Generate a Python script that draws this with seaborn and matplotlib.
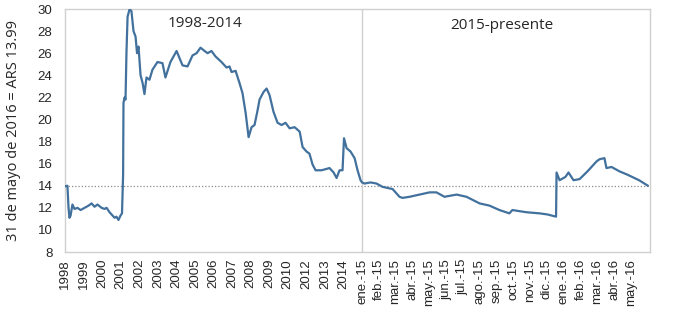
import matplotlib
matplotlib.use("Agg")
import matplotlib.pyplot as plt
import pandas as pd
import seaborn as sns

# 1998-2014: position on the category axis (one unit per labelled year) and real value
hist_pos = [0.00, 0.13, 0.19, 0.24, 0.30, 0.40, 0.51, 0.67, 0.84, 1.05, 1.27, 1.43, 1.59,
            1.75, 1.97, 2.13, 2.24, 2.40, 2.56, 2.67, 2.77, 2.88, 2.99, 3.07, 3.13, 3.15,
            3.21, 3.26, 3.31, 3.37, 3.48, 3.58, 3.69, 3.80, 3.88, 3.96, 4.07, 4.18, 4.28,
            4.39, 4.55, 4.71, 4.98, 5.25, 5.41, 5.68, 6.01, 6.33, 6.60, 6.87, 7.09, 7.30,
            7.52, 7.68, 7.89, 8.11, 8.43, 8.70, 8.86, 8.97, 9.19, 9.40, 9.56, 9.73, 9.89,
            10.05, 10.21, 10.37, 10.48, 10.70, 10.86, 11.02, 11.23, 11.45, 11.67, 11.88,
            12.10, 12.37, 12.64, 12.80, 13.01, 13.17, 13.34, 13.50, 13.82, 14.04, 14.25,
            14.47, 14.63, 14.79, 14.95, 15.03, 15.17, 15.38, 15.60, 15.76, 15.92, 16.00]
hist_val = [13.95, 14.0, 12.0, 11.1, 11.3, 12.3, 11.9, 12.0, 11.8, 12.0, 12.2, 12.4, 12.1,
            12.3, 12.0, 11.9, 12.0, 11.6, 11.3, 11.1, 11.2, 10.9, 11.3, 11.5, 15.0, 21.5,
            22.0, 21.8, 26.0, 29.3, 30.0, 29.8, 28.0, 27.5, 26.0, 26.6, 24.0, 23.3, 22.3,
            23.8, 23.6, 24.5, 25.2, 25.1, 23.8, 25.2, 26.2, 24.9, 24.8, 25.8, 26.0, 26.5,
            26.2, 26.0, 26.2, 25.7, 25.2, 24.7, 24.8, 24.3, 24.4, 23.3, 22.4, 20.6, 18.4,
            19.3, 19.5, 20.8, 21.8, 22.5, 22.8, 22.2, 20.7, 19.7, 19.5, 19.7,
            19.2, 19.3, 18.9, 17.5, 17.1, 16.9, 15.9, 15.4, 15.4, 15.5, 15.6,
            15.2, 14.7, 15.4, 15.4, 18.3, 17.4, 17.1, 16.5, 15.4, 14.5, 14.3]

# 2015-presente: months since January 2015 and real value
rec_mes = [0.00, 0.15, 0.51, 0.86, 1.22, 1.82, 2.23, 2.41, 2.83, 3.42, 4.02, 4.43, 4.91,
           5.63, 6.22, 7.00, 7.59, 8.18, 8.77, 8.95, 9.79, 10.57, 11.04, 11.55, 11.58,
           11.76, 12.11, 12.29, 12.59, 12.95, 13.42, 13.96, 14.14, 14.43, 14.55, 14.85,
           15.33, 15.80, 16.49, 17.02]
rec_val = [14.3, 14.2, 14.3, 14.2, 13.9, 13.7, 13.0, 12.9, 13.0, 13.2, 13.4, 13.4, 13.0,
           13.2, 13.0, 12.4, 12.2, 11.8, 11.5, 11.8, 11.6, 11.5, 11.4, 11.2, 15.2,
           14.5, 14.8, 15.2, 14.5, 14.6, 15.3, 16.2, 16.4, 16.5, 15.6, 15.7,
           15.3, 15.0, 14.5, 14.0]

year_labels = ["1998", "1999", "2000", "2001", "2002", "2003", "2004", "2005", "2006",
               "2007", "2008", "2009", "2010", "2012", "2013", "2014"]
month_labels = ["ene.-15", "feb.-15", "mar.-15", "abr.-15", "may.-15", "jun.-15",
                "jul.-15", "ago.-15", "sep.-15", "oct.-15", "nov.-15", "dic.-15",
                "ene.-16", "feb.-16", "mar.-16", "abr.-16", "may.-16"]
reference_value = 13.99
y_ticks = list(range(8, 31, 2))

# width of one month relative to one labelled year on the axis
MONTH_W = 0.905
split = len(year_labels)

rec_pos = [split + m * MONTH_W for m in rec_mes]
df = pd.DataFrame({
    "pos": hist_pos + rec_pos,
    "valor": hist_val + rec_val,
})

sns.set_style("white")
plt.rcParams["font.family"] = ["Open Sans", "DejaVu Sans"]

fig = plt.figure(figsize=(6.8, 3.29), dpi=100)
ax = fig.add_axes([0.0956, 0.234, 0.861, 0.7386])

grey = "#d0d0d0"
ax.axhline(reference_value, color="#8c8c8c", lw=0.9, ls=(0, (1, 1.6)), zorder=1)
ax.axvline(split, color=grey, lw=1.0, zorder=1)

sns.lineplot(data=df, x="pos", y="valor", sort=False, color="#41719c",
             lw=1.6, ax=ax, zorder=3)

ax.set_xlim(0, split + 15.54)
ax.set_ylim(8, 30)
ax.set_yticks(y_ticks)
ax.set_yticklabels([str(t) for t in y_ticks], fontsize=9.5, family="Liberation Sans")

xt = list(range(split)) + [split + k * MONTH_W for k in range(len(month_labels))]
ax.set_xticks(xt)
ax.set_xticklabels(year_labels + month_labels, rotation=90, fontsize=9.5,
                   family="Liberation Sans")

ax.tick_params(axis="both", direction="in", length=3, color=grey, width=0.8,
               pad=5)
ax.tick_params(axis="y", pad=9)
for s in ax.spines.values():
    s.set_color(grey)
    s.set_linewidth(1.0)

ax.set_xlabel("")
ax.set_ylabel("31 de mayo de 2016 = ARS 13.99", fontsize=10.5, labelpad=12)

ax.text(split / 2 - 0.45, 28.7, "1998-2014", ha="center", va="center", fontsize=11)
ax.text(split + 8.3 * MONTH_W, 28.5, "2015-presente", ha="center", va="center",
        fontsize=11)

fig.savefig("out.png", dpi=100)
